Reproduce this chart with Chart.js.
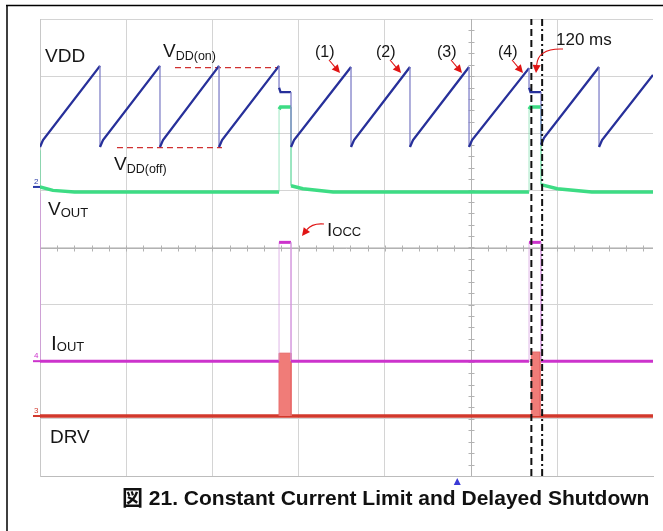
<!DOCTYPE html>
<html>
<head>
<meta charset="utf-8">
<script src="https://cdn.jsdelivr.net/npm/chart.js@4.4.0/dist/chart.umd.min.js"></script>
<style>
  html, body { margin: 0; padding: 0; background: #fff; }
  #grafica { display: block; }
</style>
</head>
<body>
<canvas id="grafica" width="663" height="531"></canvas>
<script>
// tiempo en divisiones de la pantalla (1 div ~ 1 s), niveles en divisiones verticales
const vddT = [0, 0.035, 0.696, 0.696, 0.731, 1.392, 1.392, 1.427, 2.077, 2.077,
              2.112, 2.773, 2.773, 2.79, 2.912, 2.912, 2.947, 3.608, 3.608, 3.643,
              4.292, 4.292, 4.327, 4.977, 4.977, 5.012, 5.673, 5.673, 5.69, 5.812,
              5.812, 5.847, 6.485, 6.485, 6.52, 7.111];
const vddV = [5.76, 5.88, 7.18, 5.76, 5.88, 7.18, 5.76, 5.88, 7.18, 5.76,
              5.88, 7.18, 6.8, 6.72, 6.72, 5.76, 5.88, 7.16, 5.76, 5.88,
              7.16, 5.76, 5.88, 7.16, 5.76, 5.88, 7.14, 6.8, 6.72, 6.72,
              5.8, 5.92, 7.16, 5.76, 5.88, 7.02];

const voutT = [0, 0, 0.15, 0.4, 2.773, 2.773, 2.79, 2.912, 2.912, 3.05,
               3.4, 5.673, 5.673, 5.69, 5.812, 5.812, 6.0, 6.4, 7.111];
const voutV = [5.7, 5.06, 5.0, 4.97, 4.97, 6.42, 6.46, 6.46, 5.08, 5.03,
               4.97, 4.97, 6.42, 6.46, 6.46, 5.1, 5.03, 4.97, 4.97];

const ioutT = [0, 0, 2.773, 2.773, 2.912, 2.912, 5.673, 5.673, 5.812, 5.812, 7.111];
const ioutV = [4.95, 2.01, 2.01, 4.09, 4.09, 2.01, 2.01, 4.09, 4.09, 2.01, 2.01];

const drvT = [0, 7.111];
const drvV = [1.05, 1.05];

// rafagas del DRV durante la proteccion
const burstStart = [2.773, 5.70];
const burstEnd = [2.912, 5.80];
const burstTop = [2.15, 2.17];

// cursores (120 ms)
const cursorT = [5.70, 5.825];

// niveles VDD(on) / VDD(off)
const vddOnT = [1.566, 2.773];
const vddOnV = [7.15, 7.15];
const vddOffT = [0.893, 2.111];
const vddOffV = [5.75, 5.75];

const xMax = 7.111;
const yMax = 8;

// para juntar tiempo y valor en puntos
function puntos(t, v) {
    return t.map((x, i) => ({ x: x, y: v[i] }));
}

// los tramos verticales se ven mas claros y finos
function segmentoClaro(colorClaro) {
    const vertical = ctx => ctx.p0.parsed.x === ctx.p1.parsed.x;
    return {
        borderColor: ctx => vertical(ctx) ? colorClaro : undefined,
        borderWidth: ctx => vertical(ctx) ? 1 : undefined
    };
}

const datasetsArr = [];

cursorT.forEach((t, i) => {
    datasetsArr.push({
        data: puntos([t, t], [0, yMax]),
        borderColor: '#111',
        borderWidth: 2,
        borderDash: i === 0 ? [7, 4] : [7, 3, 2, 3]
    });
});

datasetsArr.push({
    data: puntos(vddT, vddV),
    borderColor: '#27309a',
    borderWidth: 2.3,
    segment: segmentoClaro('rgba(130,130,200,0.6)')
});
datasetsArr.push({
    data: puntos(voutT, voutV),
    borderColor: '#3ddc84',
    borderWidth: 3.5,
    segment: segmentoClaro('rgba(120,220,170,0.7)')
});
datasetsArr.push({
    data: puntos(ioutT, ioutV),
    borderColor: '#cc33cc',
    borderWidth: 3,
    segment: segmentoClaro('rgba(210,150,220,0.7)')
});

burstStart.forEach((s, i) => {
    datasetsArr.push({
        data: puntos([s, s, burstEnd[i], burstEnd[i]], [drvV[0], burstTop[i], burstTop[i], drvV[0]]),
        borderColor: '#e86a6a',
        borderWidth: 1,
        backgroundColor: '#f07c78',
        fill: { value: drvV[0] }
    });
});

datasetsArr.push({
    data: puntos(drvT, drvV),
    borderColor: '#d2382c',
    borderWidth: 3.5
});
datasetsArr.push({
    data: puntos(vddOnT, vddOnV),
    borderColor: '#d03030',
    borderWidth: 1.3,
    borderDash: [6, 4]
});
datasetsArr.push({
    data: puntos(vddOffT, vddOffV),
    borderColor: '#d03030',
    borderWidth: 1.3,
    borderDash: [6, 4]
});

const FUENTE = '"Liberation Sans", Arial, sans-serif';

function texto(ctx, s, x, y, tam, color, peso) {
    ctx.font = (peso || '') + ' ' + tam + 'px ' + FUENTE;
    ctx.fillStyle = color || '#161616';
    ctx.fillText(s, x, y);
    return ctx.measureText(s).width;
}

function conSub(ctx, base, sub, x, y, tam, tamSub, bajada) {
    const w = texto(ctx, base, x, y, tam);
    texto(ctx, sub, x + w, y + bajada, tamSub);
}

// flecha roja curva con punta llena
function flecha(ctx, x0, y0, cx, cy, x1, y1) {
    const a = Math.atan2(y1 - cy, x1 - cx);
    const L = 8, w = 4;
    const bx = x1 - L * Math.cos(a), by = y1 - L * Math.sin(a);
    ctx.strokeStyle = '#e01414';
    ctx.fillStyle = '#e01414';
    ctx.lineWidth = 1.1;
    ctx.beginPath();
    ctx.moveTo(x0, y0);
    ctx.quadraticCurveTo(cx, cy, bx, by);
    ctx.stroke();
    ctx.beginPath();
    ctx.moveTo(x1, y1);
    ctx.lineTo(bx - w * Math.sin(a), by + w * Math.cos(a));
    ctx.lineTo(bx + w * Math.sin(a), by - w * Math.cos(a));
    ctx.closePath();
    ctx.fill();
}

// lineas centrales con marcas menores, como en el osciloscopio
const pluginFondo = {
    id: 'fondo',
    beforeDatasetsDraw(chart) {
        const ctx = chart.ctx;
        const area = chart.chartArea;
        const xs = chart.scales.x, ys = chart.scales.y;
        ctx.save();
        ctx.strokeStyle = '#b2b2b2';
        ctx.lineWidth = 1;
        const yc = Math.round(ys.getPixelForValue(4)) + 0.5;
        const xc = Math.round(xs.getPixelForValue(5)) + 0.5;
        ctx.beginPath();
        ctx.moveTo(area.left, yc);
        ctx.lineTo(area.right, yc);
        ctx.moveTo(xc, area.top);
        ctx.lineTo(xc, area.bottom);
        for (let v = 0.2; v < xMax; v += 0.2) {
            const px = Math.round(xs.getPixelForValue(v)) + 0.5;
            ctx.moveTo(px, yc - 3);
            ctx.lineTo(px, yc + 3);
        }
        for (let v = 0.2; v < yMax; v += 0.2) {
            const py = Math.round(ys.getPixelForValue(v)) + 0.5;
            ctx.moveTo(xc - 3, py);
            ctx.lineTo(xc + 3, py);
        }
        ctx.stroke();
        ctx.restore();
    }
};

const pluginTextos = {
    id: 'textos',
    afterDraw(chart) {
        const ctx = chart.ctx;
        const area = chart.chartArea;
        const xs = chart.scales.x, ys = chart.scales.y;
        ctx.save();

        // marco negro exterior
        ctx.strokeStyle = '#000';
        ctx.lineWidth = 1.5;
        ctx.beginPath();
        ctx.moveTo(6, 5.5);
        ctx.lineTo(663, 5.5);
        ctx.moveTo(7, 5);
        ctx.lineTo(7, 531);
        ctx.stroke();

        // marcas de canal a la izquierda
        const canales = [['2', '#2a3aa8', voutV[1]], ['4', '#cc33cc', ioutV[1]], ['3', '#d2382c', drvV[0]]];
        canales.forEach(c => {
            const py = ys.getPixelForValue(c[2]);
            ctx.fillStyle = c[1];
            ctx.fillRect(area.left - 7, py - 1, 7, 2);
            texto(ctx, c[0], area.left - 6, py - 3, 8, c[1]);
        });

        // triangulo azul del disparo
        const tx = xs.getPixelForValue(4.84);
        ctx.fillStyle = '#3a3ad6';
        ctx.beginPath();
        ctx.moveTo(tx, area.bottom + 2);
        ctx.lineTo(tx - 3.5, area.bottom + 9);
        ctx.lineTo(tx + 3.5, area.bottom + 9);
        ctx.closePath();
        ctx.fill();

        // nombres de las senales
        texto(ctx, 'VDD', 45, 62, 19);
        conSub(ctx, 'V', 'DD(on)', 163, 57, 19, 12.5, 3);
        conSub(ctx, 'V', 'DD(off)', 114, 170, 19, 12.5, 3);
        conSub(ctx, 'V', 'OUT', 48, 215, 19, 13, 2);
        conSub(ctx, 'I', 'OUT', 51, 350, 21, 13, 1);
        texto(ctx, 'DRV', 50, 443, 19);
        conSub(ctx, 'I', 'OCC', 327, 236, 19, 13, 0);

        // ciclos numerados
        const ciclos = ['(1)', '(2)', '(3)', '(4)'];
        const cicloX = [315, 376, 437, 498];
        ciclos.forEach((c, i) => {
            texto(ctx, c, cicloX[i], 57, 16);
            flecha(ctx, cicloX[i] + 14, 60, cicloX[i] + 19, 66, cicloX[i] + 25, 73);
        });

        texto(ctx, '120 ms', 556, 45, 17);
        flecha(ctx, 563, 49, 538, 48, 536, 73);
        flecha(ctx, 324, 224, 312, 223, 302, 236);

        // titulo de la figura
        ctx.font = 'bold 21px "Liberation Sans", "Noto Sans CJK JP", sans-serif';
        ctx.fillStyle = '#111';
        ctx.fillText('図 21. Constant Current Limit and Delayed Shutdown', 122, 505);

        ctx.restore();
    }
};

const ctx = document.getElementById('grafica');

new Chart(ctx, {
    type: 'line',
    data: { datasets: datasetsArr },
    options: {
        responsive: false,
        devicePixelRatio: 1,
        animation: false,
        events: [],
        layout: { padding: { left: 40, top: 19, right: 10, bottom: 55 } },
        elements: {
            point: { radius: 0 },
            line: { tension: 0, fill: false }
        },
        plugins: {
            legend: { display: false },
            tooltip: { enabled: false }
        },
        scales: {
            x: {
                type: 'linear',
                min: 0,
                max: xMax,
                ticks: { display: false, stepSize: 1 },
                grid: {
                    drawTicks: false,
                    color: c => Number.isInteger(c.tick.value) ? '#d4d4d4' : 'rgba(0,0,0,0)'
                },
                border: { color: '#bcbcbc' }
            },
            y: {
                type: 'linear',
                min: 0,
                max: yMax,
                ticks: { display: false, stepSize: 1 },
                grid: { drawTicks: false, color: '#d4d4d4' },
                border: { color: '#c8c8c8' }
            }
        }
    },
    plugins: [pluginFondo, pluginTextos]
});
</script>
</body>
</html>
